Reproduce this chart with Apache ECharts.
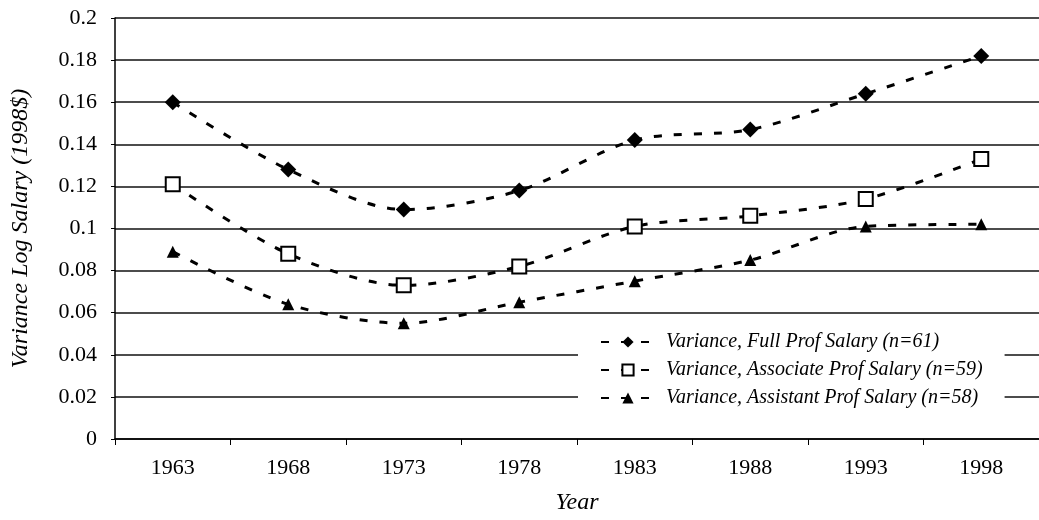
<!DOCTYPE html>
<html>
<head>
<meta charset="utf-8">
<script src="https://cdn.jsdelivr.net/npm/echarts@6/dist/echarts.min.js"></script>
<style>
  html, body { margin: 0; padding: 0; background: #fff; }
  #main { width: 1039px; height: 520px; }
</style>
</head>
<body>
<div id="main"></div>
<script>
// data
var years = ['1963', '1968', '1973', '1978', '1983', '1988', '1993', '1998'];
var fullProf = [0.160, 0.128, 0.109, 0.118, 0.142, 0.147, 0.164, 0.182];
var assocProf = [0.121, 0.088, 0.073, 0.082, 0.101, 0.106, 0.114, 0.133];
var asstProf = [0.089, 0.064, 0.055, 0.065, 0.075, 0.085, 0.101, 0.102];

var serif = '"Liberation Serif", "DejaVu Serif", serif';

function lineSeries(name, data, symbol, size, fill) {
    return {
        name: name,
        type: 'line',
        data: data,
        smooth: 0.3,
        symbol: symbol,
        symbolSize: size,
        itemStyle: { color: fill, borderColor: '#000', borderWidth: fill === '#fff' ? 2 : 0 },
        lineStyle: { color: '#000', width: 3, type: [8, 12] },
        emphasis: { disabled: true }
    };
}

var chart = echarts.init(document.getElementById('main'));
var option = {
    backgroundColor: '#fff',
    animation: false,
    textStyle: { fontFamily: serif, color: '#000' },
    grid: { left: 115, top: 18, width: 934, height: 423 },
    legend: {
        orient: 'vertical',
        left: 578,
        top: 327,
        padding: [5, 22, 8, 22],
        backgroundColor: '#fff',
        itemWidth: 54,
        itemHeight: 14,
        itemGap: 8,
        textStyle: { fontFamily: serif, fontStyle: 'italic', fontSize: 20, color: '#000', padding: [0, 0, 0, 6] },
        data: [
            'Variance, Full Prof Salary (n=61)',
            'Variance, Associate Prof Salary (n=59)',
            'Variance, Assistant Prof Salary (n=58)'
        ]
    },
    xAxis: {
        type: 'category',
        data: years,
        boundaryGap: true,
        name: 'Year',
        nameLocation: 'middle',
        nameGap: 52,
        nameTextStyle: { fontFamily: serif, fontStyle: 'italic', fontSize: 24, color: '#000' },
        axisLine: { lineStyle: { color: '#000', width: 1.5 } },
        axisTick: { show: true, length: 6, lineStyle: { color: '#000' } },
        axisLabel: { fontFamily: serif, fontSize: 22, color: '#000', margin: 18 }
    },
    yAxis: {
        type: 'value',
        min: 0,
        max: 0.2,
        interval: 0.02,
        name: 'Variance Log Salary (1998$)',
        nameLocation: 'middle',
        nameGap: 82,
        nameTextStyle: { fontFamily: serif, fontStyle: 'italic', fontSize: 24, color: '#000' },
        axisLine: { show: true, lineStyle: { color: '#000', width: 1.5 } },
        axisTick: { show: true, length: 4, lineStyle: { color: '#000' } },
        axisLabel: {
            fontFamily: serif, fontSize: 22, color: '#000', margin: 18,
            formatter: function (v) { return String(parseFloat(v.toFixed(2))); }
        },
        splitLine: { show: true, lineStyle: { color: '#111', width: 1.5 } }
    },
    series: [
        lineSeries('Variance, Full Prof Salary (n=61)', fullProf, 'diamond', 16, '#000'),
        lineSeries('Variance, Associate Prof Salary (n=59)', assocProf, 'rect', 14, '#fff'),
        lineSeries('Variance, Assistant Prof Salary (n=58)', asstProf, 'triangle', 12, '#000')
    ]
};
chart.setOption(option);
</script>
</body>
</html>
